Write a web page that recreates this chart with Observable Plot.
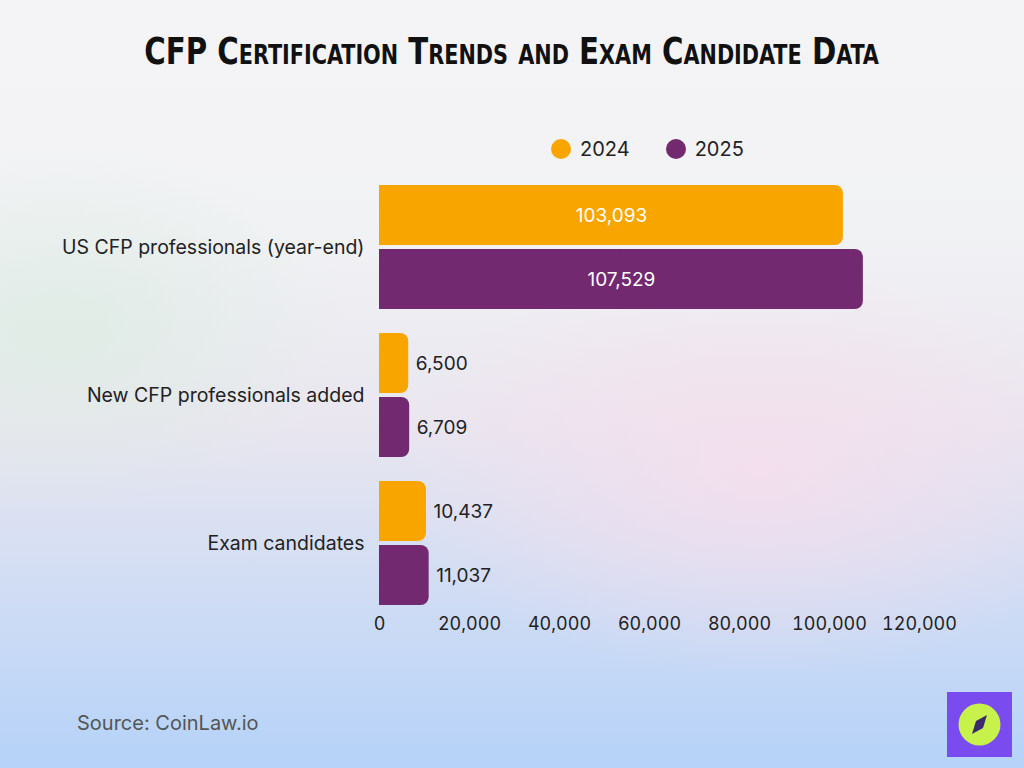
<!DOCTYPE html>
<html><head><meta charset="utf-8">
<script src="https://cdn.jsdelivr.net/npm/d3@7"></script>
<script src="https://cdn.jsdelivr.net/npm/@observablehq/plot@0.6"></script>
<style>
html,body{margin:0;padding:0;}
body{width:1024px;height:768px;position:relative;overflow:hidden;font-family:Inter,"Open Sans",sans-serif;
background:
 radial-gradient(ellipse 520px 300px at 760px 470px, rgba(246,222,236,0.85), rgba(246,222,236,0) 70%),
 radial-gradient(ellipse 420px 260px at 60px 330px, rgba(220,236,226,0.8), rgba(220,236,226,0) 70%),
 linear-gradient(180deg,#f4f4f6 0%,#f1f2f4 30%,#e9e6ef 55%,#cfdcf4 78%,#b5d2f8 100%);}
#title{position:absolute;top:29px;left:0;width:1024px;text-align:center;}
#title span{display:inline-block;font-family:"DejaVu Sans Condensed","DejaVu Sans",sans-serif;font-stretch:condensed;font-weight:bold;font-variant:small-caps;font-size:38px;color:#111;transform:scaleX(0.855);transform-origin:center;white-space:nowrap;}
#legend{position:absolute;top:137px;left:551px;font-size:20px;color:#222;}
#legend span.item{display:inline-flex;align-items:center;margin-right:36px;}
#legend span.dot{width:20px;height:20px;border-radius:50%;display:inline-block;margin-right:9px;}
#chart{position:absolute;left:0;top:0;}
#source{position:absolute;left:77px;top:711px;font-size:20px;color:#555;}
#logo{position:absolute;left:947px;top:692px;width:65px;height:65px;background:#7a4cf0;}
</style></head>
<body>
<div id="title"><span>CFP Certification Trends and Exam Candidate Data</span></div>
<div id="legend"></div>
<div id="chart"></div>
<div id="source">Source: CoinLaw.io</div>
<div id="logo"><svg width="65" height="65"><circle cx="32.5" cy="32.5" r="21" fill="#c6f24b"/><path d="M40,23 L36,36 L25,42 L29,29 Z" fill="#3b2a6e"/></svg></div>
<script>
const categories = ["US CFP professionals (year-end)", "New CFP professionals added", "Exam candidates"];
const years = ["2024", "2025"];
const values2024 = [103093, 6500, 10437];
const values2025 = [107529, 6709, 11037];
const xTicks = [0, 20000, 40000, 60000, 80000, 100000, 120000];
const colors = ["#f8a500", "#722970"];

const data = [];
categories.forEach((c, i) => {
  data.push({category: c, year: years[0], value: values2024[i]});
  data.push({category: c, year: years[1], value: values2025[i]});
});

document.getElementById("legend").innerHTML = years.map((y, i) =>
  `<span class="item"><span class="dot" style="background:${colors[i]}"></span>${y}</span>`).join("");

const fmt = d3.format(",");
const big = d => d.value > 50000;

const chart = Plot.plot({
  width: 1024, height: 768,
  marginLeft: 379, marginRight: 105, marginTop: 185, marginBottom: 163,
  style: {background: "transparent", fontFamily: "Inter, 'Open Sans', sans-serif", fontSize: "18px", color: "#222"},
  x: {domain: [0, 120000], ticks: xTicks, tickFormat: fmt, label: null, tickSize: 0, tickPadding: 12},
  y: {domain: years, axis: null, paddingInner: 0.065, paddingOuter: 0},
  fy: {domain: categories, label: null, paddingInner: 24/148, paddingOuter: 0, tickSize: 0, tickPadding: 15},
  color: {domain: years, range: colors},
  facet: {data, y: "category", marginLeft: 379},
  marks: [
    Plot.barX(data, {x: "value", y: "year", fill: "year", rx: 8}),
    Plot.barX(data, {x1: 0, x2: d => d.value / 2, y: "year", fill: "year"}),
    Plot.text(data, {filter: big, x: d => d.value / 2, y: "year", text: d => fmt(d.value), fill: "white", fontSize: 19}),
    Plot.text(data, {filter: d => !big(d), x: "value", y: "year", text: d => fmt(d.value), fill: "#222", dx: 7, textAnchor: "start", fontSize: 19})
  ]
});
d3.select(chart).selectAll("[aria-label='fy-axis tick label'] text, [aria-label='fy-axis'] text").style("font-size", "19.5px");
document.getElementById("chart").appendChild(chart);
</script>
</body></html>
